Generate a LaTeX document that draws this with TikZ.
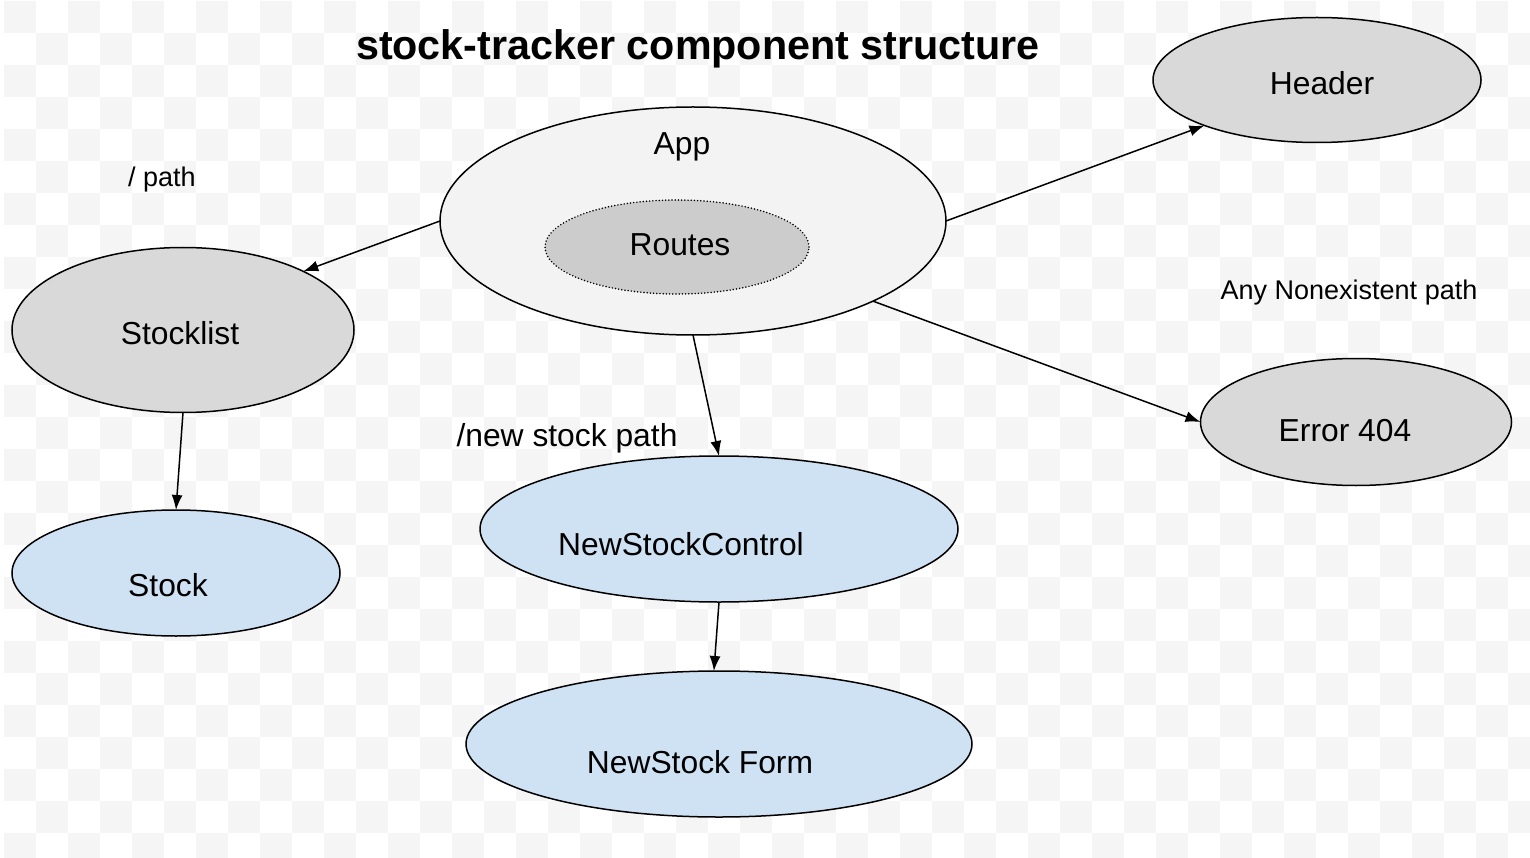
\documentclass[tikz,border=0pt]{standalone}
\usepackage{fontspec}
\setmainfont{Liberation Sans}
\usetikzlibrary{shapes.geometric,arrows.meta}
\definecolor{chk}{HTML}{F5F5F5}
\definecolor{grayfill}{HTML}{D9D9D9}
\definecolor{appfill}{HTML}{F3F3F3}
\definecolor{routefill}{HTML}{CCCCCC}
\definecolor{bluefill}{HTML}{CFE2F3}
\tikzset{
  ell/.style={ellipse, draw=black, line width=1.5pt, inner sep=0pt, outer sep=0pt},
  lbl/.style={anchor=base, inner sep=0pt, font=\fontsize{31.8}{36}\selectfont},
  small/.style={anchor=base, inner sep=0pt, font=\fontsize{27}{32}\selectfont},
  conn/.style={line width=1.5pt, -{Latex[length=15pt,width=11pt]}},
}
\begin{document}
\begin{tikzpicture}[x=1pt,y=-1pt]
\useasboundingbox (0,0) rectangle (1530,858);
\fill[white] (0,0) rectangle (1530,858);
\begin{scope}
\clip (4,0) rectangle (1530,858);
\foreach \i in {0,2,...,46} {
  \foreach \j in {0,2,...,26} {
    \fill[chk] ({4+\i*32},{1+\j*32}) rectangle +(32,32);
    \fill[chk] ({4+(\i+1)*32},{1+(\j+1)*32}) rectangle +(32,32);
  }
}
\end{scope}

\node[anchor=base, inner sep=0pt, font=\bfseries\fontsize{41.3}{46}\selectfont] (title) at (698,60) {stock-tracker component structure};

\node[ell, fill=grayfill, minimum width=328pt, minimum height=125pt] (header) at (1317,80) {};
\node[ell, fill=appfill, minimum width=506pt, minimum height=228pt] (app) at (693,221) {};
\node[ellipse, draw=black, line width=1.7pt, dash pattern=on 0pt off 3.2pt, line cap=round, fill=routefill, minimum width=264pt, minimum height=94pt, inner sep=0pt] (routes) at (677,247) {};
\node[ell, fill=grayfill, minimum width=342pt, minimum height=165pt] (stocklist) at (183,330) {};
\node[ell, fill=bluefill, minimum width=328pt, minimum height=126pt] (stock) at (176,573) {};
\node[ell, fill=bluefill, minimum width=478pt, minimum height=146pt] (nsc) at (719,529) {};
\node[ell, fill=bluefill, minimum width=506pt, minimum height=146pt] (form) at (719,744) {};
\node[ell, fill=grayfill, minimum width=311pt, minimum height=127pt] (err) at (1356,422) {};

\node[lbl] (tapp) at (682,155) {App};
\node[lbl] (troutes) at (680,256) {Routes};
\node[lbl] (tstocklist) at (180,344) {Stocklist};
\node[lbl] (tstock) at (168,596) {Stock};
\node[lbl] (tnsc) at (681,555) {NewStockControl};
\node[lbl] (tform) at (700,773) {NewStock Form};
\node[lbl] (terr) at (1345,441) {Error 404};
\node[lbl] (theader) at (1322,95) {Header};
\node[small] (tpath) at (162,187) {/ path};
\node[lbl] (tnew) at (567,446) {/new stock path};
\node[small] (tany) at (1349,300) {Any Nonexistent path};

\draw[conn] (app.180) -- (stocklist.26);
\draw[conn] (app.0) -- (header.202);
\draw[conn] (app.270) -- (nsc.90);
\draw[conn] (app.-24) -- (err.180);
\draw[conn] (stocklist.270) -- (stock.90);
\draw[conn] (nsc.270) -- (form.94);
\end{tikzpicture}
\end{document}
